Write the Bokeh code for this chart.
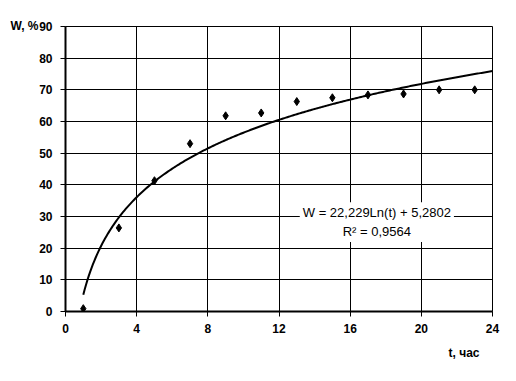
import numpy as np
from bokeh.plotting import figure
from bokeh.models import FixedTicker, Label, Range1d, Title
from bokeh.embed import file_html
from bokeh.resources import INLINE

# data
t_hours = [1, 3, 5, 7, 9, 11, 13, 15, 17, 19, 21, 23]
w_values = [0.9, 26.4, 41.3, 53.0, 61.8, 62.7, 66.3, 67.5, 68.4, 68.7, 70.0, 70.0]
x_ticks = [0, 4, 8, 12, 16, 20, 24]
y_ticks = [0, 10, 20, 30, 40, 50, 60, 70, 80, 90]
trend_a = 22.229
trend_b = 5.2802
trend_t_start = 1
trend_t_end = 24
eq_text = "W = 22,229Ln(t) + 5,2802"
r2_text = "R² = 0,9564"
y_title = "W, %"
x_title = "t, час"

FONT = "Liberation Sans"

p = figure(width=516, height=381, output_backend="svg", toolbar_location=None,
           x_range=Range1d(0, 24), y_range=Range1d(0, 90),
           min_border_left=65, min_border_right=24, min_border_top=26, min_border_bottom=70)
p.background_fill_color = "white"
p.border_fill_color = "white"
p.outline_line_color = "black"
p.outline_line_width = 1

p.xaxis.ticker = FixedTicker(ticks=x_ticks)
p.yaxis.ticker = FixedTicker(ticks=y_ticks)
for ax in (p.xaxis, p.yaxis):
    ax.axis_line_color = "black"
    ax.axis_line_width = 2
    ax.major_tick_line_color = "black"
    ax.major_tick_line_width = 1
    ax.major_tick_out = 5
    ax.major_tick_in = 0
    ax.minor_tick_line_color = None
    ax.major_label_text_font = FONT
    ax.major_label_text_font_style = "bold"
    ax.major_label_text_font_size = "12px"
    ax.major_label_text_color = "black"
p.yaxis.major_label_standoff = 8
p.xaxis.major_label_standoff = 7

for g in (p.xgrid, p.ygrid):
    g.grid_line_color = "black"
    g.grid_line_width = 1
    g.grid_line_alpha = 1.0

# trend line from the displayed equation
tt = np.linspace(trend_t_start, trend_t_end, 300)
p.line(tt, trend_a * np.log(tt) + trend_b, line_color="black", line_width=2)

p.scatter(t_hours, w_values, marker="diamond", size=8, fill_color="black", line_color="black")

p.add_layout(Label(x=17.5, y=28.2, text=eq_text + "\n" + r2_text, text_align="center",
                   text_baseline="middle", text_font=FONT, text_font_size="13px",
                   text_color="black", background_fill_color="white", padding=3,
                   text_line_height=1.25))

p.add_layout(Title(text=y_title, align="left", offset=-55, text_font=FONT,
                   text_font_style="bold", text_font_size="12px", text_color="black",
                   vertical_align="bottom", standoff=-12), "above")
p.add_layout(Title(text=x_title, align="right", offset=13, text_font=FONT,
                   text_font_style="bold", text_font_size="12px", text_color="black",
                   standoff=16), "below")

open("out.html", "w").write(file_html(p, INLINE))
